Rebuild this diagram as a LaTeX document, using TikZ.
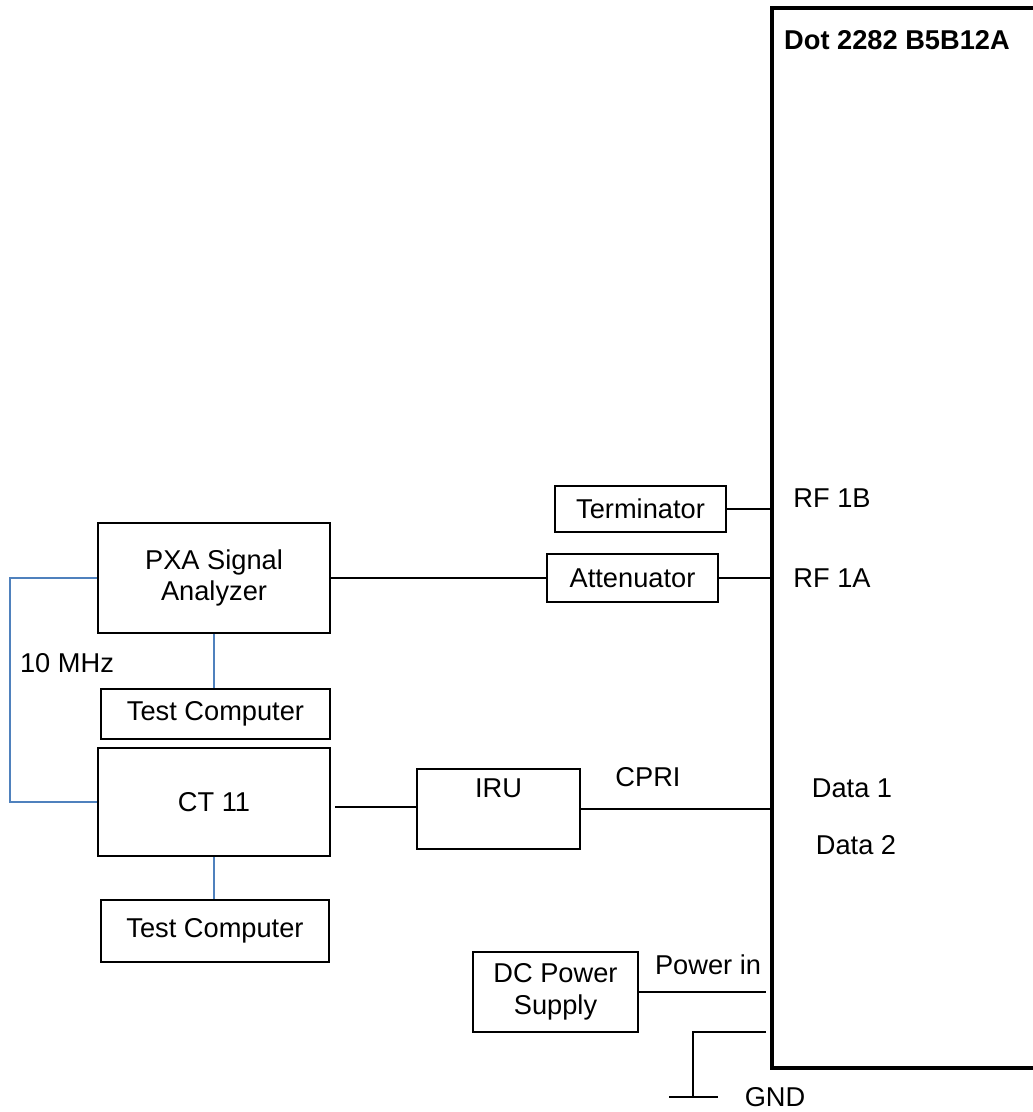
\documentclass[tikz,border=0pt]{standalone}
\usepackage{fontspec}
\setmainfont{Liberation Sans}
\usepackage{tikz}
\usetikzlibrary{positioning, calc}
\usepackage{xcolor}
\definecolor{refblue}{RGB}{79,129,189}

\begin{document}
\begin{tikzpicture}[x=0.02cm, y=-0.02cm, font=\fontsize{15.5}{18}\selectfont,
    box/.style={draw, line width=1.1pt, inner sep=0pt, align=center},
    wire/.style={line width=0.8pt},
    refwire/.style={refblue, line width=0.9pt}]
  \useasboundingbox (0,0) rectangle (1033,1112);
  % unit under test
  \draw[line width=2.3pt] (1040,8) -- (772,8) -- (772,1068) -- (1040,1068);
  \coordinate (dut) at (772,0); \coordinate (dutgap) at (766,0);
  \node[font=\fontsize{15.5}{18}\selectfont\bfseries] (title) at (897,40) {Dot 2282 B5B12A};
  \node (rf1b) at (832,498) {RF 1B}; \node (rf1a) at (832,578) {RF 1A};
  \node (data1) at (852,788) {Data 1}; \node (data2) at (856,845) {Data 2};
  % test equipment
  \node[box, minimum width=232*0.02cm, minimum height=110*0.02cm] (pxa) at (214,578) {PXA Signal\\Analyzer};
  \node[box, minimum width=229*0.02cm, minimum height=50*0.02cm] (tc1) at (215.5,714) {Test Computer};
  \node[box, minimum width=232*0.02cm, minimum height=108*0.02cm] (ct) at (214,802) {CT 11};
  \node[box, minimum width=228*0.02cm, minimum height=62*0.02cm] (tc2) at (215,931) {Test Computer};
  \node[box, minimum width=171*0.02cm, minimum height=46*0.02cm] (term) at (640.5,509) {Terminator};
  \node[box, minimum width=171*0.02cm, minimum height=48*0.02cm] (att) at (632.5,578) {Attenuator};
  \node[box, minimum width=163*0.02cm, minimum height=80*0.02cm,
    label={[anchor=north, inner sep=0pt, yshift=-0.2cm]north:IRU}] (iru) at (498.5,809) {};
  \node[box, minimum width=165*0.02cm, minimum height=80*0.02cm] (dc) at (555.5,992) {DC Power\\Supply};
  \node (cpri) at (648,777) {CPRI};
  \node (pwrin) at (708,965) {Power in};
  \node (mhz) at (67,663) {10 MHz};
  % connections
  \draw[line width=1.6pt] (term.east) -- (term.east -| dut);
  \draw[line width=1.6pt] (pxa.east) -- (att.west);
  \draw[line width=1.6pt] (att.east) -- (att.east -| dut);
  \draw[wire] ($(ct.east)+(4,5)$) -- ($(iru.west)+(0,-2)$);
  \draw[wire] (iru.east) -- (iru.east -| dut);
  \draw[wire] (dc.east) -- (dc.east -| dutgap);
  \coordinate (gndtop) at (693,1032); \coordinate (gndbot) at (693,1097);
  \draw[wire] (gndtop -| dutgap) -- (gndtop) -- (gndbot);
  \draw[wire] ($(gndbot)+(-24,0)$) -- ($(gndbot)+(25,0)$);
  \node (gnd) at (775,1097) {GND};
  \draw[refwire] (pxa.south) -- (pxa.south |- tc1.north);
  \draw[refwire] (ct.south) -- (ct.south |- tc2.north);
  \draw[refwire] (pxa.west) -- ++(-87,0) |- (ct.west);
\end{tikzpicture}
\end{document}
